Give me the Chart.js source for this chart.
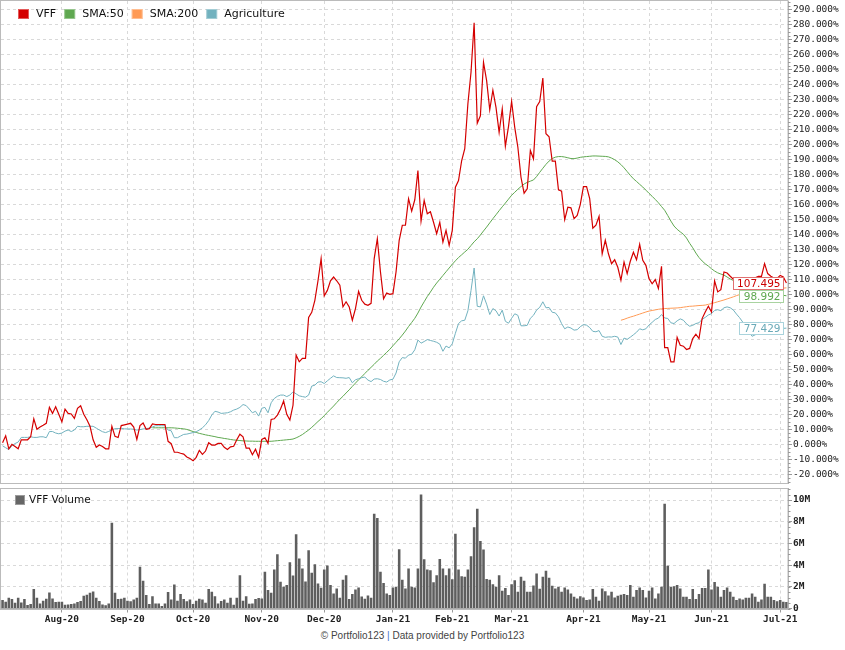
<!DOCTYPE html>
<html>
<head>
<meta charset="utf-8">
<title>VFF vs Agriculture</title>
<script src="https://cdn.jsdelivr.net/npm/chart.js@4.4.1/dist/chart.umd.min.js"></script>
<style>
  body { margin: 0; background: #fff; width: 845px; height: 650px; overflow: hidden; position: relative; }
  #priceChart { position: absolute; left: 0; top: 0; }
  #volumeChart { position: absolute; left: 0; top: 484px; }
  #footer { position: absolute; left: 0; top: 630px; width: 845px; text-align: center;
            font: 10px "Liberation Sans", Arial, sans-serif; color: #444; line-height: 12px; }
  #footer .sep { color: #3f72c8; }
</style>
</head>
<body>
<canvas id="priceChart" width="845" height="484"></canvas>
<canvas id="volumeChart" width="845" height="146"></canvas>
<div id="footer">© Portfolio123 <span class="sep">|</span> Data provided by Portfolio123</div>

<script>
// month ticks: trading-day index of the first session of each month
const monthStartIdx = [19, 40, 61, 83, 103, 125, 144, 163, 186, 207, 227, 249];
const monthLabels = ['Aug-20', 'Sep-20', 'Oct-20', 'Nov-20', 'Dec-20', 'Jan-21',
                     'Feb-21', 'Mar-21', 'Apr-21', 'May-21', 'Jun-21', 'Jul-21'];

// VFF total return, % (one value per trading day)
const vffReturn = [
  1, 5.7, -3, 0, -1.5, -3, 3, 3, 3, 5,
  17, 10, 11.5, 12.7, 14, 24.6, 20.6, 25, 20, 15,
  23.4, 20.6, 20.2, 17.3, 24, 25.7, 20, 16.4, 12, 3,
  -2, -0.5, -1.5, -3, -3, 12, 5.3, 4.5, 12.5, 13,
  13.5, 14, 11.5, 3.3, 12.5, 14.2, 10, 10.4, 13.6, 13.2,
  13.2, 13.2, 13.2, 2, 0.4, -5.3, -5.3, -6, -6.5, -8.5,
  -9.5, -11, -8.7, -4, -6.7, -4.5, 1, -0.5, -0.5, 0.6,
  0.6, -2, -3.5, -1.7, -1.3, 3, 6.7, 5, -2.6, -2.6,
  -7, -3.3, -8.7, 3.3, 4.4, 0.6, 16.6, 17, 19.5, 23.5,
  28.8, 20, 16.2, 26, 59.4, 55, 57.3, 57.3, 84.5, 88,
  96, 109, 123.8, 99, 102.6, 109, 111.5, 109, 106, 91.6,
  95, 91.6, 82.7, 90.5, 102, 96, 93.4, 92.7, 94, 123.8,
  137, 115, 97, 100.8, 100, 100.4, 115, 136, 146, 146,
  163.7, 155.4, 163, 182.5, 148.8, 162.5, 153.7, 155, 148, 140.4,
  148, 134.8, 142.6, 132.6, 142.6, 171.4, 175.8, 189, 197, 227,
  248, 281, 214, 219, 254.6, 242.4, 223, 236, 224.6, 208,
  223.6, 198.7, 211.8, 228.6, 211.3, 198, 178, 167.4, 170.3, 195.8,
  190.3, 225, 228.4, 244.2, 207, 205, 188.7, 188.7, 169.6, 168.7,
  149.7, 158, 157.6, 150.4, 152.6, 159.9, 171.8, 171.8, 163.7, 144,
  146, 152, 127, 136, 127, 120.4, 123, 118, 109.3, 121.5,
  113.8, 122, 128, 123, 133.3, 122.6, 119.3, 110.4, 107, 109.8,
  103.8, 118.6, 64.5, 64.5, 55, 55, 71.2, 66, 65.4, 63.2,
  63.9, 70.5, 73.4, 70.5, 83.8, 88.2, 92, 88.2, 108.9, 101.6,
  103.1, 114.9, 114.2, 112, 110, 109, 108, 109, 110, 111,
  110, 111, 112, 112, 120.4, 113.8, 112, 110.8, 110.5, 112.6,
  111.5, 107.495
];

// 50-day moving average of VFF, starts at trading day 48
const sma50Start = 48;
const sma50 = [
  11, 11, 11, 11, 11, 11, 11,
  10.9, 10.7, 10.5, 10.3, 9.9, 9.2, 8.5, 7.9, 7.3, 6.8,
  6.3, 5.9, 5.5, 5.1, 4.6, 4.3, 3.9, 3.6, 3.2, 2.9,
  2.7, 2.5, 2.3, 2.2, 2.1, 2.1, 2, 2, 2, 2,
  2, 2, 2.2, 2.4, 2.6, 2.8, 3, 3.2, 3.5, 4.3,
  5.3, 6.5, 8, 9.5, 11.3, 13.2, 15.2, 17, 19.1, 21.3,
  23.4, 25.5, 27.8, 30, 32, 34.2, 36.3, 38.6, 40.8, 43,
  45, 47.2, 49.3, 51.3, 53.3, 55.5, 57.3, 59.3, 61.3, 63.3,
  65.7, 68, 70.3, 72.8, 75.5, 78.5, 81.2, 84, 87.5, 91.5,
  95, 98.5, 101.5, 104.7, 107.5, 110, 112.5, 115, 117.5, 120,
  122.3, 124.5, 126.3, 128.2, 130, 132.5, 135, 137, 139.5, 142.2,
  144.8, 147.6, 150.4, 153, 155.7, 158.3, 160.8, 163.4, 166, 168,
  170, 171.8, 173.5, 174.6, 175.4, 176.2, 178.5, 181.3, 184, 186.6,
  188.8, 190.5, 191.4, 191.8, 191.8, 191.5, 191, 190.5, 190.4, 190.8,
  191.3, 191.6, 191.8, 192, 192.2, 192.2, 192.1, 192, 191.9, 191.6,
  190.8, 189.7, 188.3, 186.5, 184.3, 181.8, 179.3, 177, 175.2, 173.3,
  171.5, 169.4, 167.3, 165.3, 163.2, 161, 158.5, 156, 152.5, 148.8,
  145.5, 143.3, 141.6, 140, 137.5, 134, 131, 127.5, 124.5, 122.2,
  120.3, 118.8, 117, 115.5, 114.3, 113.5, 112.8, 111.5, 110.2, 109.2,
  108.5, 107.8, 107.1, 106.4, 105.7, 105, 104.3, 103.7, 103.1, 102.5,
  101.9, 101.3, 100.7, 100.2, 99.7, 99.3, 98.992
];

// 200-day moving average of VFF, starts at trading day 198
const sma200Start = 198;
const sma200 = [
  82.7, 83.3, 84.1, 84.8, 85.4, 86.1, 86.8, 87.5, 88.2, 88.8,
  89.2, 89.6, 90, 90.3, 90.5, 90.6, 90.7, 90.8, 90.9, 91.1,
  91.4, 91.7, 92, 92.1, 92.3, 92.5, 92.6, 92.8, 93.3, 93.8,
  94.4, 95, 95.6, 96.2, 96.9, 97.6, 98.3, 99.1, 99.8, 100.3,
  100.7, 101.1, 101.5, 101.8, 102.1, 102.4, 102.7, 103, 103.3, 103.5,
  103.7, 103.9, 104.1, 104.3
];

// Agriculture industry benchmark, %
const agriReturn = [
  -1, -2.3, -3.5, -1, 0.5, 1.5, 4.6, 4.6, 4.6, 5,
  4.6, 4.6, 5, 5, 4.4, 8.5, 8.5, 7.5, 7, 7.5,
  8.8, 9.5, 8.5, 9.5, 12, 11.7, 11.7, 12, 12, 12,
  10.8, 9.5, 8.4, 7.8, 8.6, 9.5, 10.4, 10.5, 10.6, 10.3,
  10.2, 10.2, 10, 9.5, 9.8, 10.2, 10.5, 10.8, 11.5, 12.4,
  12.4, 12.4, 12.4, 9.5, 9, 4.4, 4.4, 5.5, 6.6, 6.8,
  7.3, 7.8, 8.4, 9.5, 11, 13, 15.8, 19.5, 22, 21.5,
  20.6, 20.8, 21, 21.7, 22.8, 23.5, 24.6, 26.5, 25.8, 23.5,
  21, 22, 18.8, 24, 24.6, 21, 27.7, 30.5, 32, 32.8,
  32.8, 31.8, 32.8, 35, 33.6, 32.3, 31.8, 31.4, 32.8, 38.8,
  39.4, 41.5, 41.7, 40.5, 42.3, 44, 45.6, 44.5, 44.4, 44.3,
  44, 44.5, 41, 43, 43.7, 44.4, 44.8, 42.8, 41.8, 43.5,
  43.7, 43.2, 42, 41.5, 42.9, 43.4, 47.5, 55, 57.8, 57.4,
  59.5, 60, 63, 69.5, 67.4, 68.5, 69.8, 69.2, 68.7, 68,
  66.8, 62, 65.5, 64.3, 67, 74, 80.5, 82.3, 82.7, 89,
  102.5, 117.5, 92, 91.6, 99, 93.4, 86.5, 90.5, 89, 85.5,
  89.4, 82, 80.7, 84, 87, 86, 79, 79, 79.3, 84,
  86, 89.5, 91.3, 95, 91, 91.2, 88, 87.6, 85, 80.5,
  77, 78.2, 77.5, 76.1, 76.4, 78.4, 79.8, 79.4, 77.8, 75.3,
  75, 75.8, 72, 71.3, 71.6, 71.5, 72, 71.5, 66.5, 70.8,
  70, 71.4, 73, 74.7, 77, 76.3, 77, 79.5, 81.3, 83.2,
  84.1, 86.5, 84.2, 83.9, 81, 80.5, 82.3, 83.6, 82.7, 80.3,
  78.7, 79.3, 80.5, 81, 83.3, 84.6, 86.2, 87.1, 89.2, 89.7,
  89.1, 91, 91.6, 91, 89.5, 86.8, 84.4, 81.5, 78, 75,
  72, 73, 74, 75, 75.5, 76, 76.5, 77, 76.8, 77.2,
  77.3, 77.429
];

// VFF daily volume, millions of shares
const vffVolume = [
  0.78, 0.63, 1.0, 0.87, 0.53, 1.0, 0.56, 0.87, 0.32, 0.41,
  1.79, 1.0, 0.47, 0.72, 0.9, 1.48, 0.93, 0.6, 0.63, 0.63,
  0.35, 0.38, 0.41, 0.47, 0.6, 0.69, 1.17, 1.26, 1.45, 1.57,
  1.0, 0.69, 0.38, 0.29, 0.47, 7.9, 1.45, 0.87, 0.9, 1.0,
  0.72, 0.66, 0.84, 1.0, 3.84, 2.56, 1.24, 0.41, 1.14, 0.47,
  0.47, 0.23, 0.47, 1.51, 0.84, 2.22, 0.72, 1.33, 0.87, 0.66,
  0.84, 0.41, 0.72, 0.9, 0.84, 0.53, 1.79, 1.54, 1.14, 0.47,
  0.69, 0.84, 0.53, 1.0, 0.35, 1.0, 3.07, 0.72, 1.14, 0.44,
  0.47, 0.87, 0.96, 0.93, 3.38, 1.7, 1.45, 3.59, 5.0, 2.47,
  2.0, 2.16, 4.27, 3.04, 6.84, 4.6, 3.68, 2.5, 5.37, 3.29,
  4.08, 2.3, 1.91, 3.59, 3.96, 2.16, 1.39, 1.85, 1.0, 2.66,
  3.07, 0.87, 1.33, 1.76, 1.94, 1.11, 0.9, 1.2, 1.0, 8.73,
  8.33, 3.38, 2.35, 1.39, 1.24, 1.94, 2.0, 5.46, 2.66, 1.85,
  3.68, 2.0, 1.94, 3.68, 10.5, 4.54, 3.59, 3.53, 2.41, 3.07,
  4.57, 3.68, 3.07, 3.68, 2.69, 6.9, 3.59, 2.98, 2.93, 3.59,
  4.82, 7.5, 9.19, 6.23, 5.43, 2.72, 2.66, 2.23, 2.0, 3.07,
  1.63, 1.9, 1.24, 2.23, 2.6, 1.54, 2.93, 2.56, 1.54, 1.54,
  2.12, 3.22, 1.82, 2.93, 3.47, 2.83, 2.09, 1.85, 2.0, 1.54,
  1.94, 1.76, 1.39, 1.08, 0.93, 1.14, 1.02, 0.78, 0.84, 1.79,
  1.08, 0.72, 1.85, 1.6, 1.2, 1.54, 1.02, 1.17, 1.26, 1.33,
  1.24, 2.16, 1.08, 1.7, 1.94, 1.7, 1.02, 1.63, 1.94, 0.93,
  1.39, 2.0, 9.65, 3.93, 2.0, 2.06, 2.16, 1.85, 1.08, 1.08,
  0.87, 1.79, 0.87, 1.33, 1.9, 1.9, 3.59, 1.76, 2.44, 2.0,
  1.08, 1.7, 1.94, 1.54, 1.08, 0.78, 0.93, 0.84, 0.99, 0.99,
  1.39, 1.08, 0.63, 0.84, 2.29, 1.08, 1.08, 0.78, 0.66, 0.78,
  0.63, 0.6
];

const labels = vffReturn.map((_, i) => i);
const padFront = (start, values) => new Array(start).fill(null).concat(values);

const RED = '#d40000', GREEN = '#5fa850', ORANGE = '#ff9a55', TEAL = '#72b2bf';
const GRID = '#d9d9d9';
const axisFont = { family: 'DejaVu Sans Mono', size: 9.5 };

Chart.defaults.font.family = 'DejaVu Sans';

const monthTicks = scale => { scale.ticks = monthStartIdx.map(v => ({ value: v })); };
const rightAxisFit = scale => { scale.width = 57; scale.paddingTop = 0; scale.paddingBottom = 0; };

// gray frame round the plot area
const frame = {
  id: 'frame',
  afterDraw(chart) {
    const { ctx, chartArea: a } = chart;
    ctx.save();
    ctx.strokeStyle = '#bbb';
    ctx.lineWidth = 1;
    const l = Math.round(a.left) - 0.5, t = Math.round(a.top) - 0.5;
    ctx.strokeRect(l, t, Math.round(a.right) - l, Math.round(a.bottom) + 0.5 - t);
    ctx.restore();
  }
};

// legend drawn inside the plot, top-left
const boxLegend = {
  id: 'boxLegend',
  afterDraw(chart, args, opts) {
    const ctx = chart.ctx;
    ctx.save();
    ctx.font = opts.font;
    ctx.textBaseline = 'middle';
    let x = opts.x;
    chart.data.datasets.slice().sort((a, b) => a.legendPos - b.legendPos).forEach(ds => {
      ctx.fillStyle = ds.legendColor || ds.borderColor;
      ctx.fillRect(x, opts.y, opts.box, 10);
      ctx.strokeStyle = 'rgba(255,255,255,0.35)';
      ctx.strokeRect(x + 0.5, opts.y + 0.5, opts.box - 1, 9);
      ctx.fillStyle = '#111';
      ctx.fillText(ds.label, x + opts.textGap, opts.y + 5.5);
      x += opts.textGap + ctx.measureText(ds.label).width + 8;
    });
    ctx.restore();
  }
};

// last-value boxes at the right edge
const endLabels = {
  id: 'endLabels',
  afterDatasetsDraw(chart, args, opts) {
    const { ctx, chartArea, scales: { y } } = chart;
    ctx.save();
    ctx.font = opts.font;
    ctx.textAlign = 'right';
    ctx.textBaseline = 'middle';
    const h = 12;
    let prevBottom = -Infinity;
    opts.items.map(it => {
      const data = chart.data.datasets[it.dataset].data;
      const v = data[data.length - 1];
      return Object.assign({ v, yc: y.getPixelForValue(v) }, it);
    }).sort((a, b) => a.yc - b.yc).forEach(it => {
      const text = it.v.toFixed(3);
      const w = ctx.measureText(text).width;
      const right = Math.round(chartArea.right) - 4;
      const left = Math.round(right - w - 8);
      const top = Math.round(Math.max(it.yc - h / 2, prevBottom + 1));
      ctx.fillStyle = '#fff';
      ctx.fillRect(left, top, right - left, h);
      ctx.strokeStyle = it.border;
      ctx.lineWidth = 1;
      ctx.strokeRect(left + 0.5, top + 0.5, right - left - 1, h);
      ctx.fillStyle = it.color;
      ctx.fillText(text, right - 3.5, top + h / 2 + 1);
      prevBottom = top + h;
    });
    ctx.restore();
  }
};

// small marks between the labelled ticks on the right axis
const minorTicks = {
  id: 'minorTicks',
  afterDraw(chart, args, opts) {
    const { ctx, scales: { y } } = chart;
    ctx.save();
    ctx.strokeStyle = '#999';
    ctx.lineWidth = 1;
    ctx.beginPath();
    for (let v = Math.ceil(y.min / opts.step) * opts.step; v <= y.max; v += opts.step) {
      const py = Math.round(y.getPixelForValue(v)) + 0.5;
      ctx.moveTo(y.left, py);
      ctx.lineTo(y.left + 2.5, py);
    }
    ctx.stroke();
    ctx.restore();
  }
};

new Chart(document.getElementById('priceChart'), {
  type: 'line',
  data: {
    labels,
    datasets: [
      { label: 'VFF', data: vffReturn, borderColor: RED, borderWidth: 1.2, order: 0, legendPos: 0 },
      { label: 'SMA:50', data: padFront(sma50Start, sma50), borderColor: GREEN, borderWidth: 1, order: 2, legendPos: 1 },
      { label: 'SMA:200', data: padFront(sma200Start, sma200), borderColor: ORANGE, borderWidth: 1, order: 3, legendPos: 2 },
      { label: 'Agriculture', data: agriReturn, borderColor: TEAL, borderWidth: 1, order: 1, legendPos: 3 }
    ]
  },
  options: {
    responsive: false,
    animation: false,
    layout: { padding: { left: 1, top: 1, right: 0, bottom: 1 } },
    elements: { point: { radius: 0 }, line: { tension: 0 } },
    plugins: {
      legend: { display: false },
      tooltip: { enabled: false },
      boxLegend: { x: 18, y: 9, box: 11, textGap: 18, font: '11px "DejaVu Sans"' },
      endLabels: {
        font: '10.5px "DejaVu Sans"',
        items: [
          { dataset: 0, color: '#cc0000', border: '#e07070' },
          { dataset: 1, color: '#5fa850', border: '#a9d3a0' },
          { dataset: 3, color: '#6aaab8', border: '#a9d3dc' }
        ]
      },
      minorTicks: { step: 2.5 }
    },
    scales: {
      x: {
        type: 'category',
        offset: true,
        afterBuildTicks: monthTicks,
        afterFit: s => { s.paddingLeft = 0; s.paddingRight = 0; },
        grid: { offset: false, color: GRID, drawTicks: false },
        border: { display: false, dash: [3, 3] },
        ticks: { display: false }
      },
      y: {
        position: 'right',
        min: -25.8,
        max: 295.5,
        afterFit: rightAxisFit,
        grid: { color: GRID, tickColor: '#999', tickLength: 4 },
        border: { color: '#aaa', dash: [3, 3] },
        ticks: {
          stepSize: 10,
          includeBounds: false,
          padding: 1,
          color: '#222',
          font: axisFont,
          callback: v => v.toFixed(3) + '%'
        }
      }
    }
  },
  plugins: [frame, boxLegend, endLabels, minorTicks]
});

new Chart(document.getElementById('volumeChart'), {
  type: 'bar',
  data: {
    labels,
    datasets: [
      { label: 'VFF Volume', data: vffVolume, backgroundColor: '#5e5e5e', borderWidth: 0,
        barPercentage: 0.82, categoryPercentage: 1, legendColor: '#666', legendPos: 0 }
    ]
  },
  options: {
    responsive: false,
    animation: false,
    layout: { padding: { left: 1, top: 4.5, right: 0, bottom: 0 } },
    plugins: {
      legend: { display: false },
      tooltip: { enabled: false },
      boxLegend: { x: 15, y: 11, box: 10, textGap: 14, font: '10.5px "DejaVu Sans"' },
      minorTicks: { step: 0.5 }
    },
    scales: {
      x: {
        offset: true,
        afterBuildTicks: monthTicks,
        afterFit: s => { s.height = 21.5; s.paddingLeft = 0; s.paddingRight = 0; },
        grid: { offset: false, color: GRID, tickColor: '#999', tickLength: 4 },
        border: { color: '#aaa', dash: [3, 3] },
        ticks: {
          autoSkip: false,
          maxRotation: 0,
          padding: 1,
          color: '#222',
          font: Object.assign({ weight: 'bold' }, axisFont),
          callback: v => monthLabels[monthStartIdx.indexOf(v)]
        }
      },
      y: {
        position: 'right',
        min: 0,
        max: 11.06,
        afterFit: rightAxisFit,
        grid: { color: GRID, tickColor: '#999', tickLength: 4 },
        border: { color: '#aaa', dash: [3, 3] },
        ticks: {
          stepSize: 2,
          includeBounds: false,
          padding: 1,
          color: '#222',
          font: Object.assign({ weight: 'bold' }, axisFont),
          callback: v => v === 0 ? '0' : v + 'M'
        }
      }
    }
  },
  plugins: [frame, boxLegend, minorTicks]
});
</script>
</body>
</html>
